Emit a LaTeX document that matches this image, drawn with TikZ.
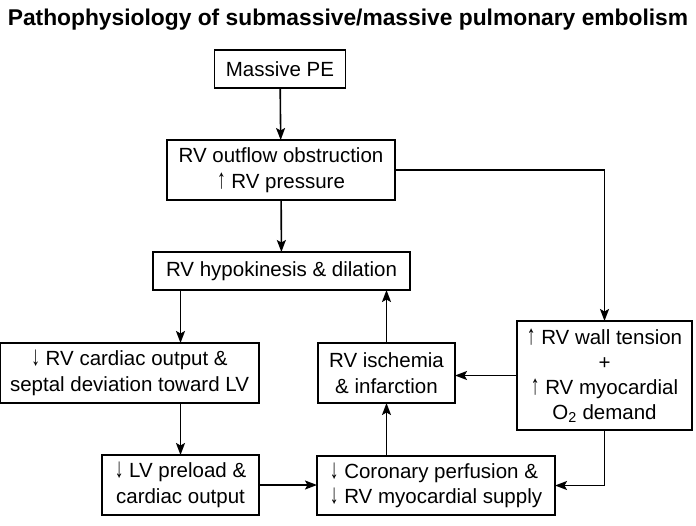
\documentclass[tikz,border=0pt]{standalone}
\usepackage{fontspec}
\setmainfont{Liberation Sans}
\usetikzlibrary{arrows.meta}

\newcommand{\incr}{\scalebox{0.85}[1.35]{↑}}
\newcommand{\decr}{\scalebox{0.85}[1.35]{↓}}

\begin{document}
\begin{tikzpicture}[x=1pt,y=-1pt,line width=1.6pt,
  every node/.style={font=\fontsize{20.5}{25.5}\selectfont, outer sep=0pt, inner sep=0pt},
  box/.style={draw, align=center},
  arr/.style={-{Stealth[length=12pt,width=9pt,inset=2.5pt]}}]

\useasboundingbox (0,0) rectangle (696,525);

\node (title) at (348,20) {\fontsize{22.8}{26}\selectfont\bfseries Pathophysiology of submassive/massive pulmonary embolism};

\node[box, minimum width=131, minimum height=38] (pe) at (280,69) {Massive PE};
\node[box, minimum width=228, minimum height=60] (obs) at (281,170) {RV outflow obstruction\\ \incr{} RV pressure};
\node[box, minimum width=257, minimum height=38] (hypo) at (281.5,271) {RV hypokinesis \& dilation};
\node[box, minimum width=259, minimum height=60] (cout) at (129.5,373) {\decr{} RV cardiac output \&\\ septal deviation toward LV};
\node[box, minimum width=157, minimum height=60] (prel) at (180.5,485) {\decr{} LV preload \&\\ cardiac output};
\node[box, minimum width=137, minimum height=60] (isch) at (386.5,373) {RV ischemia\\ \& infarction};
\node[box, align=left, minimum width=238, minimum height=59] (coro) at (436,485.5) {\decr{} Coronary perfusion \&\\ \decr{} RV myocardial supply};
\node[box, minimum width=175, minimum height=109, font=\fontsize{20.5}{25}\selectfont] (wall) at (604.5,375.5) {\incr{} RV wall tension\\ +\\ \incr{} RV myocardial\\ O\textsubscript{2} demand};

\draw[arr] (pe) -- (obs);
\draw[arr] (obs) -- (hypo);
\draw[arr] (obs.east) -| (wall.north);
\draw[arr] (prel.north |- hypo.south) -- (prel.north |- cout.north);
\draw[arr] (prel.north |- cout.south) -- (prel.north);
\draw[arr] (prel.east) -- (prel.east -| coro.west);
\draw[arr] (isch.south |- coro.north) -- (isch.south);
\draw[arr] (isch.north) -- (isch.north |- hypo.south);
\draw[arr] (wall.west) -- (wall.west -| isch.east);
\draw[arr] (wall.south) |- (coro.east);
\end{tikzpicture}
\end{document}
